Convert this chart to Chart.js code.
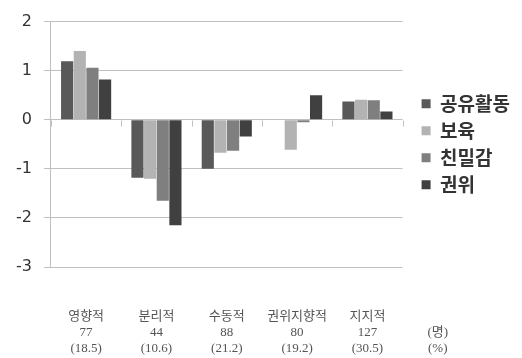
<!DOCTYPE html>
<html>
<head>
<meta charset="utf-8">
<script src="https://cdn.jsdelivr.net/npm/chart.js@4/dist/chart.umd.min.js"></script>
<style>
  html, body { margin: 0; padding: 0; background: #fff; }
  #wrap { width: 522px; height: 358px; position: relative; }
</style>
</head>
<body>
<div id="wrap"><canvas id="c"></canvas></div>
<script>
// Category labels: type name, count, share
const categories = [
  ['영향적', '77', '(18.5)'],
  ['분리적', '44', '(10.6)'],
  ['수동적', '88', '(21.2)'],
  ['권위지향적', '80', '(19.2)'],
  ['지지적', '127', '(30.5)']
];
const unitLabel = ['(명)', '(%)'];

const seriesNames = ['공유활동', '보육', '친밀감', '권위'];
const sharedActivity = [1.19, -1.18, -1.00, 0.00, 0.37];
const childcare      = [1.40, -1.20, -0.67, -0.61, 0.41];
const intimacy       = [1.06, -1.65, -0.63, -0.05, 0.40];
const authority      = [0.82, -2.15, -0.34, 0.50, 0.17];
const seriesColors = ['#595959', '#b3b3b3', '#7f7f7f', '#404040'];

const yTicks = { min: -3, max: 2, step: 1 };

const seriesValues = [sharedActivity, childcare, intimacy, authority];
const gridColor = '#c0c0c0';
const xAxisHeight = 89;      // room reserved under the plot for the three-line labels
const legendGap = 11;        // extra space between plot and legend

const tickFont = { family: "'Liberation Serif', 'Noto Sans CJK KR', serif", size: 13, lineHeight: 1.25 };

const axisExtras = {
  id: 'axisExtras',
  afterLayout(chart) {
    // push the legend a little away from the plot
    chart.legend.left += legendGap;
    chart.legend.right += legendGap;
  },
  afterDatasetsDraw(chart) {
    // small tick marks on the zero line between categories
    const xs = chart.scales.x, ys = chart.scales.y;
    const ctx = chart.ctx;
    const y0 = Math.round(ys.getPixelForValue(0)) + 0.5;
    ctx.save();
    ctx.strokeStyle = gridColor;
    ctx.lineWidth = 1;
    ctx.beginPath();
    for (let i = 0; i <= categories.length; i++) {
      const x = Math.round(xs.getPixelForValue(i - 0.5)) + 0.5;
      ctx.moveTo(x, y0);
      ctx.lineTo(x, y0 + 6);
    }
    ctx.stroke();
    ctx.restore();
  },
  afterDraw(chart) {
    // unit note beside the last category label, on the 2nd and 3rd label lines
    const xs = chart.scales.x;
    const ctx = chart.ctx;
    const lh = tickFont.size * tickFont.lineHeight;
    const top = xs.top + xs.options.ticks.padding;
    ctx.save();
    ctx.font = tickFont.size + 'px ' + tickFont.family;
    ctx.fillStyle = xs.options.ticks.color;
    ctx.textAlign = 'center';
    ctx.textBaseline = 'middle';
    const x = xs.getPixelForValue(categories.length);
    unitLabel.forEach((t, i) => {
      ctx.fillText(t, x, top + lh * (i + 2));
    });
    ctx.restore();
  }
};

new Chart(document.getElementById('c'), {
  type: 'bar',
  data: {
    labels: categories,
    datasets: seriesNames.map((name, i) => ({
      label: name,
      data: seriesValues[i],
      backgroundColor: seriesColors[i],
      borderWidth: 0,
      barPercentage: 0.96,
      categoryPercentage: 0.72
    }))
  },
  options: {
    responsive: true,
    maintainAspectRatio: false,
    animation: false,
    layout: { padding: { top: -6, right: 2 + legendGap, left: 4, bottom: 2 } },
    plugins: {
      tooltip: { enabled: false },
      legend: {
        position: 'right',
        fullSize: false,
        labels: {
          boxWidth: 9,
          boxHeight: 9,
          padding: 8,
          color: '#333',
          font: { family: "'Noto Sans CJK KR', sans-serif", size: 19, weight: 'bold' }
        }
      }
    },
    scales: {
      x: {
        grid: { display: false },
        border: { display: false },
        afterFit(scale) { scale.height = xAxisHeight; },
        ticks: {
          padding: 33,
          color: '#555',
          maxRotation: 0,
          autoSkip: false,
          font: tickFont
        }
      },
      y: {
        min: yTicks.min,
        max: yTicks.max,
        ticks: {
          stepSize: yTicks.step,
          color: '#333',
          padding: 12,
          font: { family: "'DejaVu Sans', sans-serif", size: 16 }
        },
        grid: { color: gridColor, tickLength: 7, lineWidth: 1 },
        border: { color: gridColor }
      }
    }
  },
  plugins: [axisExtras]
});
</script>
</body>
</html>
